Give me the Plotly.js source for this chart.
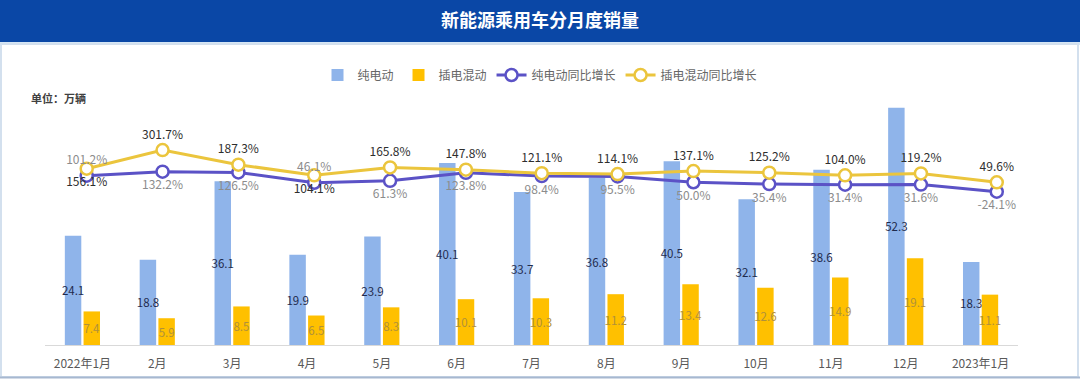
<!DOCTYPE html>
<html>
<head>
<meta charset="utf-8">
<script src="https://cdn.plot.ly/plotly-3.0.1.min.js"></script>
<style>
html,body{margin:0;padding:0;background:#fff;}
#chart{width:1080px;height:380px;}
</style>
</head>
<body>
<div id="chart"></div>
<script>
// ---- data ----
var months = ["2022年1月","2月","3月","4月","5月","6月","7月","8月","9月","10月","11月","12月","2023年1月"];
var bevSales = [24.1, 18.8, 36.1, 19.9, 23.9, 40.1, 33.7, 36.8, 40.5, 32.1, 38.6, 52.3, 18.3];
var phevSales = [7.4, 5.9, 8.5, 6.5, 8.3, 10.1, 10.3, 11.2, 13.4, 12.6, 14.9, 19.1, 11.1];
var bevGrowth = [101.2, 132.2, 126.5, 46.1, 61.3, 123.8, 98.4, 95.5, 50.0, 35.4, 31.4, 31.6, -24.1];
var phevGrowth = [156.1, 301.7, 187.3, 104.1, 165.8, 147.8, 121.1, 114.1, 137.1, 125.2, 104.0, 119.2, 49.6];
var seriesNames = ["纯电动", "插电混动", "纯电动同比增长", "插电混动同比增长"];
var chartTitle = "新能源乘用车分月度销量";
var unitLabel = "单位：万辆";

// ---- layout helpers ----
var W = 1080, H = 380;
var M = {l: 45, r: 62, t: 100, b: 35};
function px(X) { return (X - M.l) / (W - M.l - M.r); }
function py(Y) { return (H - M.b - Y) / (H - M.t - M.b); }
var FONT = '"Noto Sans CJK SC", "Noto Sans", sans-serif';

var C_BEV = '#8FB4EA', C_PHEV = '#FFC000';
var C_LBEV = '#5B52C6', C_LPHEV = '#EBC53D';

function pct(v) { return v.toFixed(1) + '%'; }
var bevPos = bevGrowth.map(function(v, i) { return (i === 0 || i === 3) ? 'top center' : 'bottom center'; });
var phevPos = phevGrowth.map(function(v, i) { return (i === 0 || i === 3) ? 'bottom center' : 'top center'; });

var traces = [
  {
    type: 'bar', name: seriesNames[0], x: months, y: bevSales,
    marker: {color: C_BEV},
    text: bevSales.map(function(v){return v.toFixed(1);}),
    textposition: 'inside', insidetextanchor: 'middle', textangle: 0, constraintext: 'none',
    textfont: {family: FONT, size: 11.5, color: '#1F2B4D'},
    hoverinfo: 'skip'
  },
  {
    type: 'bar', name: seriesNames[1], x: months, y: phevSales,
    marker: {color: C_PHEV},
    text: phevSales.map(function(v){return v.toFixed(1);}),
    textposition: 'inside', insidetextanchor: 'middle', textangle: 0, constraintext: 'none',
    textfont: {family: FONT, size: 11.5, color: '#B0903A'},
    hoverinfo: 'skip'
  },
  {
    type: 'scatter', mode: 'lines+markers', name: seriesNames[2], x: months, y: bevGrowth,
    xaxis: 'x2', yaxis: 'y2',
    line: {color: C_LBEV, width: 3},
    marker: {symbol: 'circle', size: 12, color: '#ffffff', line: {color: C_LBEV, width: 2.5}},
    cliponaxis: false, hoverinfo: 'skip'
  },
  {
    type: 'scatter', mode: 'lines+markers', name: seriesNames[3], x: months, y: phevGrowth,
    xaxis: 'x2', yaxis: 'y2',
    line: {color: C_LPHEV, width: 3},
    marker: {symbol: 'circle', size: 12, color: '#ffffff', line: {color: C_LPHEV, width: 2.5}},
    cliponaxis: false, hoverinfo: 'skip'
  },
  {
    type: 'scatter', mode: 'markers+text', showlegend: false, x: months, y: bevGrowth,
    xaxis: 'x2', yaxis: 'y2',
    marker: {size: 12, color: 'rgba(0,0,0,0)'},
    text: bevGrowth.map(pct), textposition: bevPos,
    textfont: {family: FONT, size: 12, color: '#8C8C8C'},
    cliponaxis: false, hoverinfo: 'skip'
  },
  {
    type: 'scatter', mode: 'markers+text', showlegend: false, x: months, y: phevGrowth,
    xaxis: 'x2', yaxis: 'y2',
    marker: {size: 12, color: 'rgba(0,0,0,0)'},
    text: phevGrowth.map(pct), textposition: phevPos,
    textfont: {family: FONT, size: 12, color: '#2E2E2E'},
    cliponaxis: false, hoverinfo: 'skip'
  }
];

var layout = {
  width: W, height: H,
  margin: M,
  paper_bgcolor: '#ffffff', plot_bgcolor: 'rgba(0,0,0,0)',
  font: {family: FONT, color: '#595959'},
  title: {
    text: '<b>' + chartTitle + '</b>',
    font: {family: FONT, size: 18, color: '#ffffff'},
    x: 0.5, xref: 'container', xanchor: 'center',
    y: 1 - 21 / H, yref: 'container', yanchor: 'middle'
  },
  barmode: 'group', bargap: 0.5, bargroupgap: 0.12,
  showlegend: true,
  legend: {
    orientation: 'h', xref: 'container', x: 0.5, xanchor: 'center',
    yref: 'container', y: 1 - 75 / H, yanchor: 'middle',
    font: {family: FONT, size: 12, color: '#666666'},
    itemwidth: 30, bgcolor: 'rgba(0,0,0,0)', traceorder: 'normal'
  },
  xaxis: {
    type: 'category', categoryorder: 'array', categoryarray: months,
    range: [-0.5, 12.5], showline: true, linecolor: '#D9D9D9', linewidth: 1,
    ticks: '', showgrid: false, zeroline: false, ticklabelstandoff: 8,
    tickfont: {family: FONT, size: 12, color: '#595959'}, fixedrange: true
  },
  yaxis: {
    range: [0, 54.0], visible: false, showgrid: false, zeroline: false, fixedrange: true
  },
  xaxis2: {
    type: 'category', categoryorder: 'array', categoryarray: months,
    overlaying: 'x', anchor: 'y2', range: [-0.55, 12.28], visible: false, fixedrange: true
  },
  yaxis2: {
    overlaying: 'y', anchor: 'x2', side: 'right', range: [-1221.5, 692.6],
    visible: false, showgrid: false, zeroline: false, fixedrange: true
  },
  shapes: [
    {type: 'rect', xref: 'paper', yref: 'paper', x0: px(0), x1: px(W), y0: py(0), y1: py(42),
     fillcolor: '#0A47A6', line: {width: 0}, layer: 'below'},
    {type: 'rect', xref: 'paper', yref: 'paper', x0: px(0), x1: px(W), y0: py(42), y1: py(45),
     fillcolor: '#D5E6F5', line: {width: 0}, layer: 'below'},
    {type: 'rect', xref: 'paper', yref: 'paper', x0: px(1), x1: px(1078), y0: py(44), y1: py(377),
     fillcolor: 'rgba(0,0,0,0)', line: {color: '#D3E0EE', width: 2}, layer: 'below'},
    {type: 'line', xref: 'paper', yref: 'paper', x0: px(0), x1: px(W), y0: py(377.5), y1: py(377.5),
     line: {color: '#A7B8D0', width: 2}, layer: 'below'}
  ],
  annotations: [
    {text: '<b>' + unitLabel + '</b>', xref: 'paper', yref: 'paper', x: px(29), y: py(98),
     xanchor: 'left', yanchor: 'middle', showarrow: false,
     font: {family: FONT, size: 11, color: '#404040'}}
  ]
};

Plotly.newPlot('chart', traces, layout, {displayModeBar: false, staticPlot: true});
</script>
</body>
</html>
